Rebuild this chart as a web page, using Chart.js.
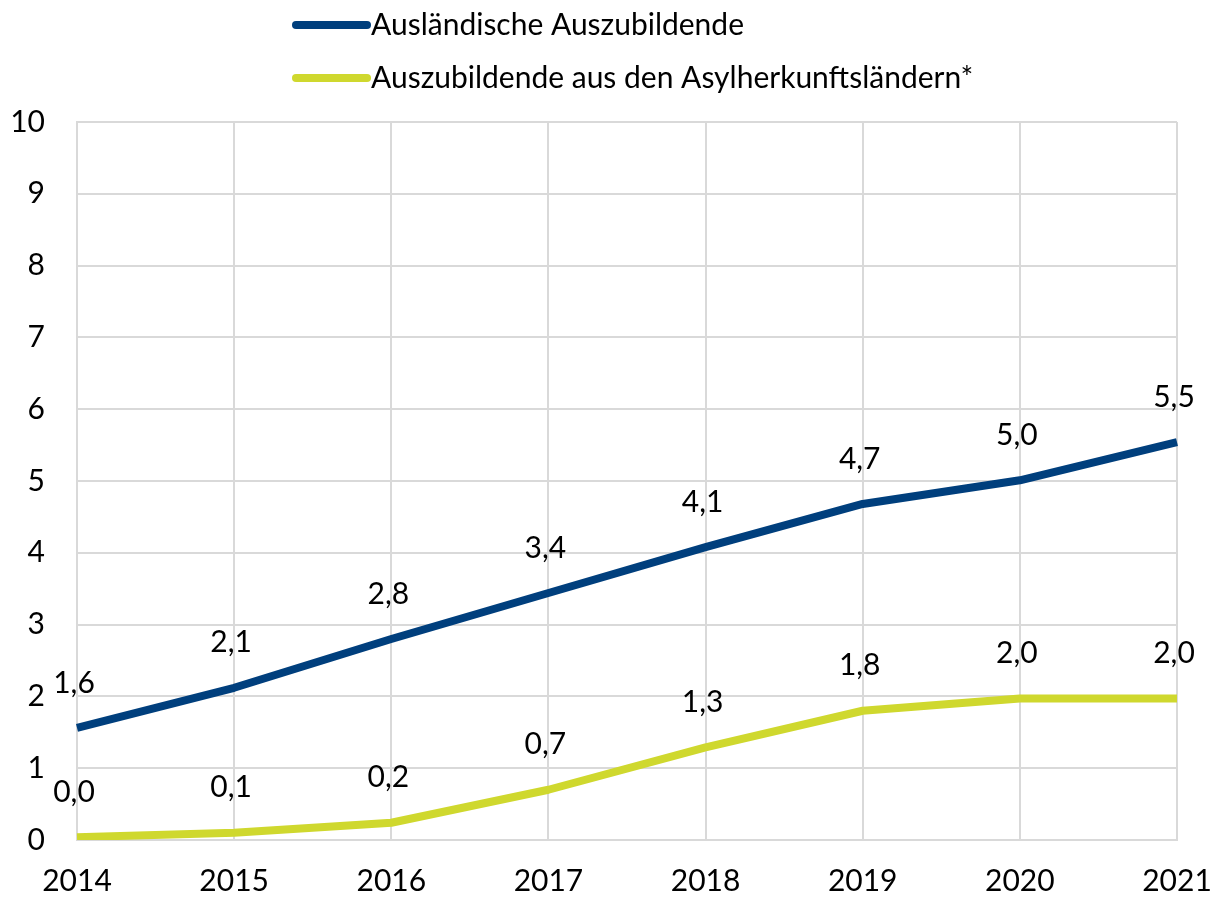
<!DOCTYPE html>
<html><head><meta charset="utf-8">
<script src="https://cdn.jsdelivr.net/npm/chart.js@4.4.1/dist/chart.umd.min.js"></script>
<style>html,body{margin:0;padding:0;background:#fff}#wrap{width:1212px;height:897px}</style>
</head><body><div id="wrap"><canvas id="c" width="1212" height="897"></canvas></div>
<script>
const categories = ['2014','2015','2016','2017','2018','2019','2020','2021'];
const seriesNames = ['Ausländische Auszubildende','Auszubildende aus den Asylherkunftsländern*'];
const auslaendische = [1.56, 2.12, 2.8, 3.44, 4.08, 4.68, 5.01, 5.54];
const asyl = [0.04, 0.1, 0.24, 0.7, 1.29, 1.8, 1.97, 1.97];
const yTicks = [0,1,2,3,4,5,6,7,8,9,10];
const colors = ['#003f7d', '#cfd82e'];
const FONT = 'Lato, Carlito, "Liberation Sans", sans-serif';
const FS = 30;

const legendPlugin = {
  id: 'customLegend',
  afterDraw(chart) {
    const ctx = chart.ctx;
    ctx.save();
    chart.data.datasets.forEach((ds, i) => {
      const y = 25 + i * 53;
      ctx.strokeStyle = ds.borderColor;
      ctx.lineWidth = 8;
      ctx.lineCap = 'round';
      ctx.beginPath(); ctx.moveTo(296, y); ctx.lineTo(367, y); ctx.stroke();
      ctx.fillStyle = '#000';
      ctx.font = FS + 'px ' + FONT;
      ctx.textBaseline = 'middle';
      ctx.textAlign = 'left';
      ctx.fillText(ds.label, 371, y);
    });
    ctx.restore();
  }
};

const labelPlugin = {
  id: 'valueLabels',
  afterDatasetsDraw(chart) {
    const ctx = chart.ctx;
    ctx.save();
    ctx.fillStyle = '#000';
    ctx.font = FS + 'px ' + FONT;
    ctx.textAlign = 'center';
    ctx.textBaseline = 'middle';
    chart.data.datasets.forEach((ds, i) => {
      const meta = chart.getDatasetMeta(i);
      meta.data.forEach((pt, j) => {
        const txt = ds.data[j].toFixed(1).replace('.', ',');
        ctx.fillText(txt, pt.x - 3, pt.y - 45);
      });
    });
    ctx.restore();
  }
};

new Chart(document.getElementById('c'), {
  type: 'line',
  data: {
    labels: categories,
    datasets: [
      { label: seriesNames[0], data: auslaendische, borderColor: colors[0], backgroundColor: colors[0] },
      { label: seriesNames[1], data: asyl, borderColor: colors[1], backgroundColor: colors[1] }
    ]
  },
  options: {
    responsive: false,
    animation: false,
    devicePixelRatio: 1,
    layout: { padding: { left: 0, right: 0, top: 122, bottom: 0 } },
    elements: {
      line: { borderWidth: 8, tension: 0, borderCapStyle: 'butt', borderJoinStyle: 'round' },
      point: { radius: 0, hoverRadius: 0 }
    },
    plugins: { legend: { display: false }, tooltip: { enabled: false } },
    scales: {
      x: {
        offset: false,
        grid: { color: '#d9d9d9', lineWidth: 2, drawTicks: false },
        border: { color: '#d9d9d9', width: 2 },
        ticks: { color: '#000', font: { family: FONT, size: FS }, padding: 23, maxRotation: 0, autoSkip: false },
        afterFit(s) { s.height = 57; s.paddingLeft = 0; s.paddingRight = 35; }
      },
      y: {
        min: 0, max: 10,
        afterBuildTicks(s) { s.ticks = yTicks.map(v => ({ value: v })); },
        grid: { color: '#d9d9d9', lineWidth: 2, drawTicks: false },
        border: { color: '#d9d9d9', width: 2 },
        ticks: { color: '#000', font: { family: FONT, size: FS }, padding: 32 },
        afterFit(s) { s.width = 77; s.paddingTop = 0; s.paddingBottom = 0; }
      }
    }
  },
  plugins: [legendPlugin, labelPlugin]
});
</script>
</body></html>
